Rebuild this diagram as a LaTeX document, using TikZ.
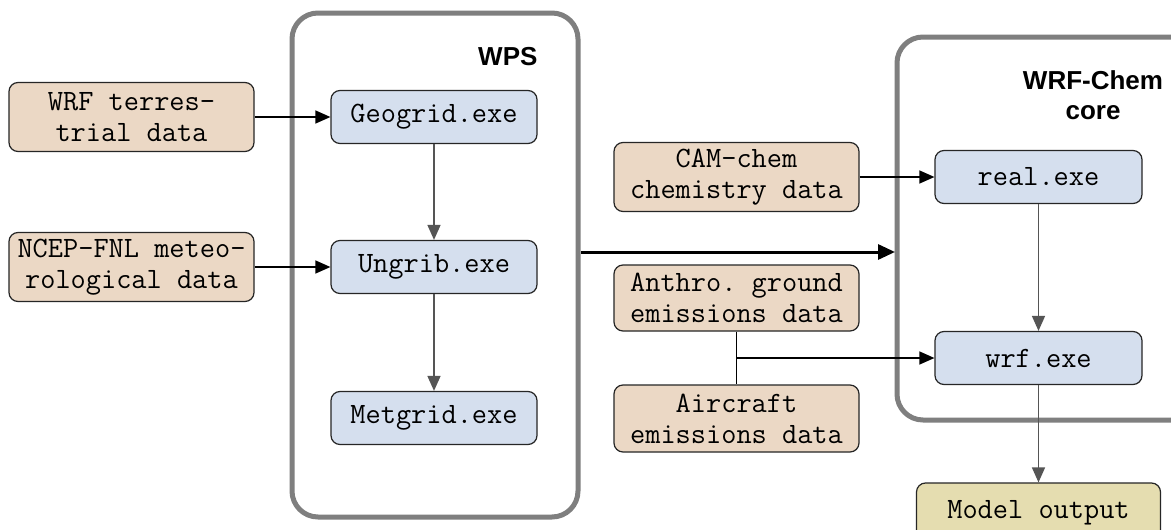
\documentclass[tikz,border=0pt]{standalone}
\usepackage{fontspec}
\setmainfont{Liberation Sans}
\setmonofont{Latin Modern Mono}
\usetikzlibrary{arrows.meta}
\definecolor{bluefill}{HTML}{D5DFEE}
\definecolor{tanfill}{HTML}{EBD8C5}
\definecolor{outfill}{HTML}{E5DDB0}
\definecolor{framegray}{HTML}{7F7F7F}
\definecolor{linegray}{HTML}{555555}
\tikzset{
  base/.style={draw=black!85, line width=1.2pt, rounded corners=9pt, align=center, inner sep=0pt,
    font=\ttfamily\fontsize{29.5}{31}\selectfont},
  exebox/.style={base, fill=bluefill, minimum width=206pt, minimum height=53pt},
  databox/.style={base, fill=tanfill, minimum width=245pt, minimum height=69pt},
  outbox/.style={base, fill=outfill, minimum width=244pt, minimum height=60pt},
  frame/.style={draw=framegray, line width=5pt, rounded corners=26pt},
  label/.style={font=\bfseries\fontsize{26}{30}\selectfont, align=center},
  arr/.style={line width=1.3pt, -{Triangle[length=15pt,width=13pt]}},
  varr/.style={draw=linegray, line width=1.5pt, -{Triangle[length=15pt,width=13pt]}},
  plain/.style={line width=1.3pt},
}
\begin{document}
\begin{tikzpicture}[x=1pt,y=-1pt]
\clip (0,0) rectangle (1171,530);
\fill[white] (0,0) rectangle (1171,530);
% frames
\draw[frame] (292,13) rectangle (578,517);
\draw[frame] (897,37) rectangle (1200,420);
\node[label, anchor=east] (wps) at (541,57) {WPS};
\node[label] (wrfchem) at (1093,95) {WRF-Chem\\core};
% WPS
\node[exebox] (geo) at (434,117) {Geogrid.exe};
\node[exebox] (ungrib) at (434,267) {Ungrib.exe};
\node[exebox] (met) at (434,418) {Metgrid.exe};
\node[databox] (terr) at (131.5,117) {WRF terres-\\trial data};
\node[databox] (ncep) at (131.5,267) {NCEP-FNL meteo-\\rological data};
% middle
\node[databox] (cam) at (736.5,177) {CAM-chem\\chemistry data};
\node[databox, minimum height=66pt] (anthro) at (736.5,298) {Anthro. ground\\emissions data};
\node[databox, minimum height=67pt] (air) at (736.5,418.5) {Aircraft\\emissions data};
% WRF-Chem
\node[exebox, minimum width=207pt] (real) at (1038.5,177) {real.exe};
\node[exebox, minimum width=207pt] (wrf) at (1038.5,358) {wrf.exe};
\node[outbox] (out) at (1038.5,513) {Model output};
% connectors
\draw[arr] (terr.east) -- (geo.west);
\draw[arr] (ncep.east) -- (ungrib.west);
\draw[varr] (geo.south) -- (ungrib.north);
\draw[varr] (ungrib.south) -- (met.north);
\coordinate (bigs) at (581,252);
\coordinate (bige) at (895,252);
\draw[line width=3pt, -{Triangle[length=17pt,width=15pt]}] (bigs) -- (bige);
\draw[arr] (cam.east) -- (real.west);
\draw[plain] (anthro.south) -- (air.north);
\coordinate (j) at (736.5,358);
\draw[arr] (j) -- (wrf.west);
\draw[varr] (real.south) -- (wrf.north);
\draw[varr] (wrf.south) -- (out.north);
\end{tikzpicture}
\end{document}
